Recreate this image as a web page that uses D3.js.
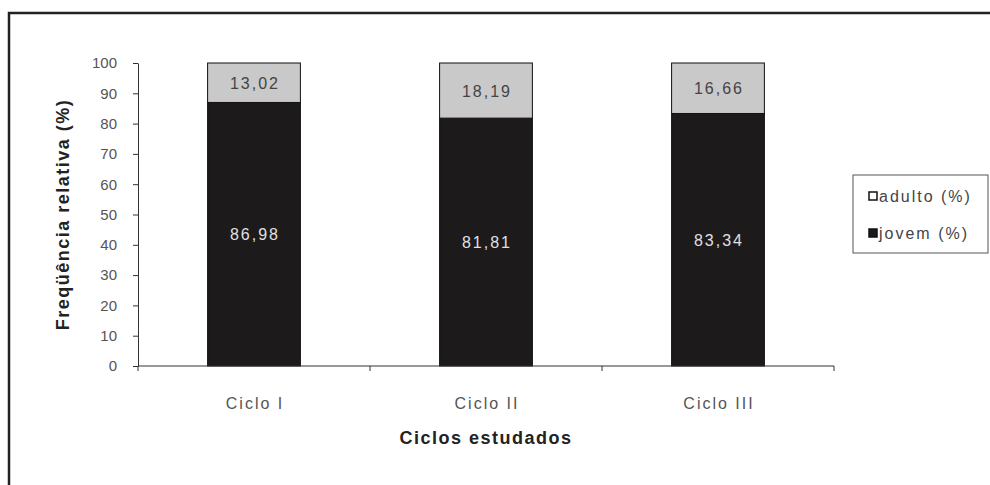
<!DOCTYPE html>
<html><head><meta charset="utf-8">
<script src="https://cdn.jsdelivr.net/npm/d3@7"></script>
<style>body{margin:0;background:#fff}svg{display:block}</style>
</head><body>
<script>
const categories = ["Ciclo I", "Ciclo II", "Ciclo III"];
const jovem = [86.98, 81.81, 83.34];
const adulto = [13.02, 18.19, 16.66];
const seriesNames = ["adulto (%)", "jovem (%)"];
const yTicks = [0,10,20,30,40,50,60,70,80,90,100];

const W = 990, H = 485;
const svg = d3.select("body").append("svg").attr("width", W).attr("height", H);
svg.append("rect").attr("width", W).attr("height", H).attr("fill", "#fff");
// outer frame (left + top visible)
svg.append("path").attr("d", `M9,${H} L9,13 L${W},13`).attr("fill","none").attr("stroke","#222").attr("stroke-width",2.5);

const x0 = 138, x1 = 834, yTop = 63, yBot = 366;
const x = d3.scaleBand().domain(categories).range([x0, x1]).paddingInner(0.6).paddingOuter(0.3);
const y = d3.scaleLinear().domain([0, 100]).range([yBot, yTop]);

const font = "'Liberation Sans', Arial, sans-serif";
const LS = 2;

// bars
const data = categories.map((c,i)=>({c, j: jovem[i], a: adulto[i]}));
const g = svg.append("g");
g.selectAll("rect.j").data(data).join("rect")
  .attr("x", d=>x(d.c)).attr("width", x.bandwidth())
  .attr("y", d=>y(d.j)).attr("height", d=>y(0)-y(d.j))
  .attr("fill","#1c1a1b").attr("stroke","#111").attr("stroke-width",1);
g.selectAll("rect.a").data(data).join("rect")
  .attr("x", d=>x(d.c)).attr("width", x.bandwidth())
  .attr("y", d=>y(d.j+d.a)).attr("height", d=>y(d.j)-y(d.j+d.a))
  .attr("fill","#c9c9c9").attr("stroke","#111").attr("stroke-width",1);

const fmt = v => v.toFixed(2).replace(".", ",");
g.selectAll("text.j").data(data).join("text")
  .attr("x", d=>x(d.c)+x.bandwidth()/2+LS/2).attr("y", d=>y(d.j/2)+6)
  .attr("text-anchor","middle").attr("font-family",font).attr("font-size",16).attr("letter-spacing",LS)
  .attr("fill","#e0e0e0").text(d=>fmt(d.j));
g.selectAll("text.a").data(data).join("text")
  .attr("x", d=>x(d.c)+x.bandwidth()/2+LS/2).attr("y", d=>y(d.j+d.a/2)+6)
  .attr("text-anchor","middle").attr("font-family",font).attr("font-size",16).attr("letter-spacing",LS)
  .attr("fill","#444").text(d=>fmt(d.a));

// y axis
const ya = svg.append("g").attr("transform",`translate(${x0},0)`)
  .call(d3.axisLeft(y).tickValues(yTicks).tickSize(5).tickPadding(16).tickSizeOuter(0));
ya.select(".domain").attr("stroke","#333");
ya.selectAll("line").attr("stroke","#333");
ya.selectAll("text").attr("font-family",font).attr("font-size",15).attr("fill","#555");

// x axis
svg.append("line").attr("x1",x0).attr("x2",x1).attr("y1",yBot).attr("y2",yBot).attr("stroke","#333");
const step = (x1-x0)/categories.length;
svg.selectAll("line.xt").data(d3.range(categories.length+1)).join("line")
  .attr("x1",i=>x0+i*step).attr("x2",i=>x0+i*step).attr("y1",yBot).attr("y2",yBot+5).attr("stroke","#333");
svg.selectAll("text.cat").data(categories).join("text")
  .attr("x", c=>x(c)+x.bandwidth()/2+LS/2).attr("y", 409)
  .attr("text-anchor","middle").attr("font-family",font).attr("font-size",16).attr("letter-spacing",LS)
  .attr("fill","#555").text(c=>c);

// axis titles
svg.append("text").attr("transform",`translate(69,${(yTop+yBot)/2}) rotate(-90)`)
  .attr("text-anchor","middle").attr("font-family",font).attr("font-size",18).attr("font-weight","bold")
  .attr("letter-spacing",1.5).attr("fill","#222").text("Freqüência relativa (%)");
svg.append("text").attr("x",(x0+x1)/2).attr("y",444)
  .attr("text-anchor","middle").attr("font-family",font).attr("font-size",18).attr("font-weight","bold")
  .attr("letter-spacing",1.5).attr("fill","#222").text("Ciclos estudados");

// legend
const lg = svg.append("g");
lg.append("rect").attr("x",853).attr("y",175).attr("width",135).attr("height",78)
  .attr("fill","#fff").attr("stroke","#555").attr("stroke-width",1);
const legColors = ["#fff","#1c1a1b"];
seriesNames.forEach((n,i)=>{
  const yy = 196 + i*37;
  lg.append("rect").attr("x",869).attr("y",yy-4).attr("width",8).attr("height",8)
    .attr("fill",legColors[i]).attr("stroke","#111").attr("stroke-width",1.5);
  lg.append("text").attr("x",879).attr("y",yy+6).attr("font-family",font).attr("font-size",16)
    .attr("letter-spacing",LS).attr("fill","#444").text(n);
});
</script>
</body></html>
